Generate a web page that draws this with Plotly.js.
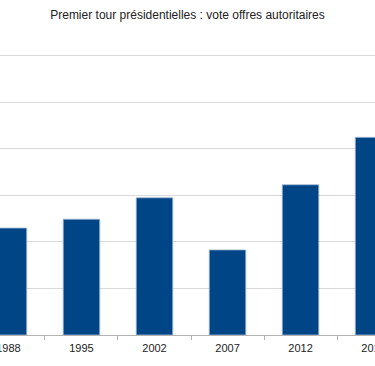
<!DOCTYPE html>
<html>
<head>
<meta charset="utf-8">
<script src="https://cdn.plot.ly/plotly-3.0.1.min.js"></script>
<style>html,body{margin:0;padding:0;background:#fff;}#chart{width:375px;height:366px;}</style>
</head>
<body>
<div id="chart"></div>
<script>
const years = ["1988", "1995", "2002", "2007", "2012", "2017"];
const votes = [11.5, 12.45, 14.75, 9.15, 16.15, 21.25];
const titleText = "Premier tour présidentielles : vote offres autoritaires";

const trace = {
  type: "bar",
  x: years,
  y: votes,
  marker: {color: "#004586", line: {color: "#9fb6d2", width: 0.8}},
  hoverinfo: "skip"
};

const layout = {
  width: 375, height: 366,
  margin: {l: 0, r: 0, t: 53, b: 31, pad: 0},
  paper_bgcolor: "#ffffff", plot_bgcolor: "#ffffff",
  bargap: 0.5,
  showlegend: false,
  title: {
    text: titleText,
    font: {family: "Liberation Sans, Arial, sans-serif", size: 12, color: "#222"},
    x: 0.5, xanchor: "center", y: 1 - 15/366, yanchor: "middle"
  },
  xaxis: {
    type: "category",
    range: [-0.116, 5.02],
    tickson: "boundaries",
    ticks: "outside", ticklen: 4, tickcolor: "#b3b3b3", tickwidth: 1,
    ticklabelstandoff: 3,
    showgrid: false,
    showline: true, linecolor: "#b3b3b3", linewidth: 1,
    tickfont: {family: "Liberation Sans, Arial, sans-serif", size: 11, color: "#222"},
    fixedrange: true
  },
  yaxis: {
    range: [0, 30.32],
    dtick: 5,
    showticklabels: false,
    showgrid: true, gridcolor: "#d9d9d9", gridwidth: 1,
    zeroline: false,
    showline: false,
    fixedrange: true
  }
};

Plotly.newPlot("chart", [trace], layout, {displayModeBar: false, staticPlot: true});
</script>
</body>
</html>
